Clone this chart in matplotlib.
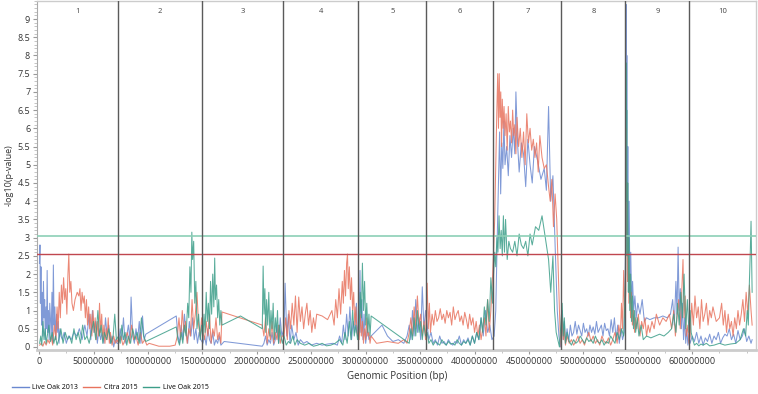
import matplotlib.pyplot as plt
from matplotlib.ticker import MultipleLocator

plt.rcParams['font.family'] = ['Open Sans', 'DejaVu Sans']

# chromosome boundaries (Mb) and names
chrom_edges = [0, 72.6, 149.8, 224.3, 293.2, 355.7, 417.3, 479.8, 538.6, 597.4, 659.0]
chrom_names = ['1', '2', '3', '4', '5', '6', '7', '8', '9', '10']

# significance thresholds
thr_lo15 = 3.05
thr_citra = 2.56

# Live Oak 2013 (blue)
lo13_pos = [0.3, 0.8, 1.2, 1.7, 2.3, 2.9, 3.4, 4.0, 4.6, 5.1, 5.7, 6.3, 6.9, 7.4, 8.0, 8.6, 9.2, 9.8, 10.5, 11.1,
            11.8, 12.4, 13.1, 13.8, 14.5, 15.2, 16.0, 16.7, 17.5, 18.3, 19.1, 20.0, 21.5, 23.0, 25.0, 27.0, 29.5, 32.0,
            34.5, 37.0, 39.5, 42.0, 44.0, 46.0, 47.5, 49.0, 50.5, 52.0, 53.5, 55.0, 56.5, 58.0, 59.5, 61.0, 62.5, 64.0,
            65.5, 67.0, 68.5, 70.0, 71.5,
            73, 74.5, 76, 77.5, 79, 80.5, 82, 83.5, 84.5, 86, 87.5, 89, 90.5, 92, 93.5, 95, 96.5, 98, 126, 127.5, 129,
            130.5, 132, 133.5, 135, 136.5, 138, 139.5, 141, 142.5, 144, 145.5, 147, 148.5,
            150.5, 152, 153.5, 155, 156.5, 158, 159.5, 161, 162.5, 164, 165.5, 167, 170, 205, 206.5, 208, 209.5, 211,
            212.5, 214, 215.5, 217, 218.5, 220, 221.5, 223,
            225, 226, 227.5, 229, 230.5, 232, 234, 236, 238, 240, 243, 246, 250, 255, 260, 265, 270, 274, 276, 278,
            279.5, 281, 282.5, 284, 285.5, 287, 288.5, 290, 291.5, 292.5,
            294, 294.8, 295.6, 296.5, 297.5, 298.5, 300, 301.5, 303, 305, 310, 315, 320, 325, 330, 335, 338, 340,
            341.5, 343, 344.5, 346, 347.5, 349, 350.5, 352, 353.5, 355,
            356.5, 358, 360, 362, 364, 366, 368, 370, 372, 374, 376, 378, 380, 382, 384, 386, 388, 390, 392, 394, 396,
            398, 400, 402, 404, 406, 408, 410, 412, 414, 416,
            418, 419.5, 421, 422, 423, 424, 425, 426, 427, 428, 429.5, 431, 432.5, 434, 435.5, 437, 438, 439.5, 441,
            443, 445, 447, 449, 451, 453, 455, 458, 461, 464, 466, 468, 470, 472, 474, 476, 477.5, 479,
            480.5, 481.5, 482.5, 483.5, 485, 486.5, 488, 489.5, 491, 492.5, 494, 495.5, 497, 498.5, 500, 501.5, 503,
            504.5, 506, 507.5, 509, 510.5, 512, 513.5, 515, 516.5, 518, 519.5, 521, 522.5, 524, 525.5, 527, 528.5,
            530, 531.5, 533, 534.5, 536, 537.5,
            538.9, 539.2, 539.5, 539.9, 540.3, 540.8, 541.4, 542, 542.7, 543.5, 544.3, 545.2, 546.2, 547.3, 548.5,
            550, 552, 554, 556, 558, 561, 565, 569, 573, 577, 580, 582, 583.5, 585, 586, 587, 588, 589, 590, 591,
            592, 593, 594, 595, 596, 597,
            598, 600, 602, 604, 606, 608, 610, 612, 614, 616, 618, 620, 622, 624, 626, 628, 630, 632, 634, 636, 638,
            640, 642, 644, 646, 648, 650, 652, 654, 655]
lo13_val = [2.3, 2.8, 1.2, 2.2, 0.6, 1.5, 0.3, 1.8, 0.8, 1.3, 0.2, 1.1, 0.5, 2.1, 0.4, 1.0, 0.2, 1.2, 0.7, 0.3,
            1.5, 0.1, 2.25, 0.6, 1.1, 0.2, 0.9, 0.4, 0.7, 0.1, 0.5, 0.3, 0.2, 0.4, 0.1, 0.3, 0.2, 0.4,
            0.3, 0.5, 0.2, 0.6, 0.3, 0.9, 0.2, 1.0, 0.4, 0.7, 0.1, 0.5, 0.2, 0.4, 0.1, 0.8, 0.3, 0.6,
            0.1, 0.3, 0.0, 0.2, 0.1,
            0.1, 0.5, 0.2, 0.8, 0.1, 0.3, 0.6, 0.2, 1.37, 0.3, 0.1, 0.5, 0.2, 0.7, 0.1, 0.85, 0.2, 0.35, 0.85, 0.3, 0.1,
            0.6, 0.2, 0.9, 0.4, 0.1, 0.7, 0.3, 0.8, 0.2, 0.5, 0.1, 0.4, 0.2,
            0.1, 0.3, 0.05, 0.5, 0.2, 0.1, 0.4, 0.05, 0.2, 0.1, 0.3, 0.05, 0.15, 0.02, 0.1, 0.3, 0.05, 0.2,
            0.1, 0.4, 0.05, 0.2, 0.6, 0.1, 0.8, 0.3,
            0.5, 1.75, 0.3, 0.9, 0.1, 0.6, 0.2, 0.4, 0.05, 0.2, 0.1, 0.15, 0.05, 0.1, 0.05, 0.08, 0.1, 0.05, 0.3, 0.1,
            0.6, 0.2, 0.9, 0.3, 1.1, 0.2, 0.7, 0.4, 1.2, 0.3,
            0.8, 2.1, 0.4, 1.3, 0.2, 0.9, 0.1, 0.5, 0.2, 0.3, 0.45, 0.6, 0.3, 0.15, 0.2, 0.1, 0.3, 0.6,
            0.2, 1.0, 0.3, 1.3, 0.4, 0.8, 0.2, 1.65, 0.5, 1.0,
            0.6, 0.2, 0.4, 0.1, 0.2, 0.05, 0.3, 0.1, 0.15, 0.05, 0.2, 0.1, 0.05, 0.15, 0.1, 0.3, 0.05, 0.2, 0.1, 0.25,
            0.05, 0.3, 0.1, 0.4, 0.2, 0.8, 0.3, 1.0, 0.4, 0.6, 0.2,
            0.3, 1.0, 3.2, 4.5, 5.9, 4.2, 5.6, 4.9, 6.2, 5.0, 5.5, 4.7, 5.8, 5.2, 6.0, 5.3, 7.0, 5.6, 4.8,
            5.6, 5.3, 4.4, 5.7, 5.0, 4.5, 5.5, 5.1, 4.6, 4.9, 4.3, 6.6, 4.0, 4.7, 2.8, 1.0, 0.3, 0.0,
            1.0, 0.2, 0.7, 0.1, 0.5, 0.15, 0.6, 0.3, 0.4, 0.7, 0.35, 0.6, 0.45, 0.3, 0.65, 0.4, 0.5,
            0.3, 0.6, 0.4, 0.55, 0.35, 0.7, 0.4, 0.5, 0.6, 0.3, 0.65, 0.45, 0.5, 0.3, 0.75, 0.4, 0.8,
            0.2, 0.6, 0.1, 0.5, 0.2, 0.4,
            3.0, 9.4, 5.0, 8.0, 3.5, 5.5, 2.5, 4.0, 1.8, 2.6, 1.2, 1.8, 1.0, 1.4, 0.8,
            1.2, 0.9, 1.3, 0.7, 0.8, 0.75, 0.8, 0.8, 0.85, 0.8, 0.9, 1.3, 0.6, 1.8, 0.9, 2.74, 1.0, 1.6, 0.5, 1.2,
            0.2, 0.8, 0.1, 0.5, 0.05, 0.3,
            0.1, 0.3, 0.15, 0.4, 0.1, 0.3, 0.05, 0.25, 0.15, 0.35, 0.1, 0.3, 0.2, 0.4, 0.1, 0.25, 0.35, 0.3, 0.5, 0.2,
            0.35, 0.1, 0.45, 0.2, 0.3, 0.5, 0.15, 0.3, 0.1, 0.2]

# Citra 2015 (red)
ci15_pos = [0.5, 2, 3.5, 5, 6.5, 8, 9.5, 11, 12.5, 14, 15.5, 16.5, 17.5, 18.5, 19.5, 20.5, 21.5, 22.5, 23.5, 24.5,
            25.5, 26.5, 27.3, 28.2, 29.2, 30.2, 31.5, 33, 35, 36.5, 37.5, 38.5, 39.5, 40.5, 41.5, 42.5, 43.5, 44.5,
            45.5, 46.5, 47.5, 48.5, 49.5, 50.5, 51.5, 52.5, 53.5, 54.5, 55.5, 56.5, 57.5, 58.5, 59.5, 60.5, 61.5,
            62.5, 63.5, 64.5, 65.5, 67, 68.5, 70, 71.5,
            73, 75, 77, 79, 81, 83, 85, 87, 89, 91, 93, 95, 97, 99, 101, 110, 120, 125, 127, 128.5, 130, 131.5, 133,
            134.5, 136, 137.5, 139, 140.5, 142, 143.5, 145, 146.5, 148, 149.3,
            150.5, 152, 153.5, 155, 156.5, 158, 159.5, 161, 162.5, 164, 165.5, 167, 168, 205, 206.5, 208, 209.5, 211,
            212.5, 214, 215.5, 217, 218.5, 220, 221.5, 223,
            225, 226.5, 228, 229.5, 231, 232.5, 234, 235.5, 237, 238.5, 240, 241.5, 243, 244.5, 246, 247.5, 249,
            250.5, 252, 253.5, 255, 260, 265, 269, 271, 272.5, 274, 275.5, 277, 278.5, 279.5, 280.5, 281.5, 282.5,
            283.3, 284, 285, 286, 287, 288, 289, 290, 291, 292,
            294, 295, 296, 297, 298, 299, 300, 301, 302, 303, 304, 305, 310, 320, 330, 335, 338, 340, 341.5, 343,
            344.5, 346, 347.5, 349, 350.5, 352, 353.5, 355,
            356.5, 357.5, 358.5, 359.5, 361, 362.5, 364, 365.5, 367, 368.5, 370, 371.5, 373, 374.5, 376, 377.5, 379,
            380.5, 382, 383.5, 385, 386.5, 388, 389.5, 391, 392.5, 394, 395.5, 397, 398.5, 400, 401.5, 403, 404.5,
            406, 407.5, 409, 410.5, 412, 413.5, 415, 416.5,
            417.5, 418.5, 419.5, 420.5, 421.3, 422, 422.7, 423.4, 424.1, 424.8, 425.5, 426.3, 427.1, 428, 429, 430,
            431, 432, 433, 434, 435, 436, 437, 438, 439, 440.5, 442, 443.5, 445, 446.5, 448, 449.5, 451, 452.5, 454,
            455.5, 457, 458.5, 460, 462, 464, 466, 468, 469.5, 471, 472.5, 474, 475.5, 477, 478.5, 479.5,
            480.5, 481.5, 482.5, 483.5, 485, 487, 489, 491, 493, 495, 497, 499, 501, 503, 505, 507, 509, 511, 513,
            515, 517, 519, 521, 523, 525, 527, 529, 531, 532.5, 534, 535, 536, 537, 538,
            538.9, 539.3, 539.7, 540.1, 540.6, 541.2, 541.8, 542.5, 543.3, 544.1, 545, 546, 547, 548, 549, 550.5,
            552, 553.5, 555, 556.5, 558, 559.5, 561, 563, 565, 567, 570, 573, 576, 579, 581, 583, 584.5, 586, 587.5,
            589, 590.5, 591.5, 592.5, 593.5, 594.5, 596, 597,
            598, 599.5, 601, 602.5, 604, 605.5, 607, 608.5, 610, 611.5, 613, 614.5, 616, 617.5, 619, 622, 625, 627,
            628.5, 630, 631.5, 633, 634.5, 636, 637.5, 639, 640.5, 642, 643.5, 645, 646.5, 648, 649.5, 651, 652.5,
            654, 655]
ci15_val = [0.05, 0.1, 0.02, 0.15, 0.05, 0.2, 0.1, 0.3, 0.05, 0.6, 0.2, 1.1, 0.5, 1.5, 0.8, 1.7, 1.2, 1.9, 1.3, 1.6,
            0.9, 2.0, 2.55, 1.5, 1.8, 1.2, 1.0, 1.3, 1.5, 1.4, 1.6, 1.0, 1.5, 1.2, 1.4, 0.8, 1.3, 0.6,
            1.1, 0.5, 0.9, 0.3, 1.0, 0.4, 0.8, 0.2, 0.7, 0.3, 1.2, 0.4, 0.9, 0.2, 0.6, 0.1, 0.5,
            0.2, 0.8, 0.1, 0.4, 0.05, 0.3, 0.1, 0.2,
            0.1, 0.3, 0.05, 0.2, 0.4, 0.1, 0.6, 0.2, 0.3, 0.05, 0.4, 0.1, 0.2, 0.05, 0.1, 0.02, 0.02, 0.05, 0.3, 0.8,
            0.2, 1.0, 0.4, 0.7, 0.1, 0.5, 0.3, 1.3, 0.5, 0.9, 1.5, 0.6, 0.3, 0.8,
            0.4, 0.2, 0.7, 0.3, 0.9, 0.1, 0.5, 0.3, 0.8, 0.2, 0.4, 0.1, 0.96, 0.6, 0.3, 0.8, 0.1, 0.5,
            0.2, 0.7, 0.1, 0.4, 0.2, 0.6, 0.1, 0.3,
            0.3, 0.8, 0.2, 1.0, 0.5, 1.2, 0.6, 1.4, 0.4, 1.37, 0.7, 1.1, 0.5, 0.9, 1.2, 0.6, 1.0,
            0.4, 0.8, 0.5, 0.9, 0.85, 0.75, 1.0, 0.6, 1.3, 0.8, 1.6, 0.9, 1.8, 1.2, 2.1, 1.4, 2.3,
            2.55, 1.6, 2.2, 1.3, 1.9, 1.0, 1.5, 0.6, 1.1, 0.4,
            0.2, 0.9, 0.3, 0.7, 0.1, 0.5, 0.2, 0.8, 0.3, 0.4, 0.1, 0.3, 0.1, 0.15, 0.1, 0.2, 0.1, 0.4, 0.8, 0.3,
            1.1, 0.5, 1.4, 0.6, 0.9, 0.3, 0.7, 0.2,
            1.75, 0.5, 1.2, 0.4, 0.9, 0.6, 1.0, 0.7, 0.8, 1.05, 0.75, 0.9, 0.65, 1.0, 0.8, 0.95, 0.6,
            1.1, 0.75, 0.9, 1.0, 0.7, 0.85, 0.6, 0.95, 0.75, 0.5, 0.9, 0.6, 0.8, 0.4, 0.7, 0.3, 0.6,
            0.2, 0.5, 0.8, 0.3, 1.3, 0.4, 1.0, 1.9,
            2.6, 3.5, 5.0, 6.5, 7.5, 6.0, 7.5, 6.3, 7.0, 5.5, 6.8, 6.0, 6.6, 5.8, 6.4, 5.4,
            6.6, 5.9, 6.2, 5.6, 6.5, 5.8, 6.1, 5.3, 6.3, 5.5, 6.0, 5.2, 5.9, 5.0, 6.4, 5.6, 6.0, 5.4, 5.7,
            5.2, 5.6, 4.8, 5.8, 5.2, 4.9, 5.0, 4.4, 4.0, 4.6, 3.3, 4.2, 3.5, 2.0, 0.5, 0.0,
            0.8, 0.2, 0.5, 0.05, 0.3, 0.1, 0.2, 0.05, 0.15, 0.3, 0.1, 0.2, 0.05, 0.25, 0.4, 0.15, 0.3, 0.1, 0.2,
            0.05, 0.3, 0.15, 0.1, 0.25, 0.05, 0.2, 0.4, 0.1, 0.6, 0.3, 1.2, 0.5, 2.1, 0.8,
            1.5, 6.0, 3.0, 4.5, 1.8, 3.0, 1.2, 2.0, 0.8, 1.5, 0.6, 1.0, 0.4, 0.8, 0.5, 0.9,
            0.3, 0.7, 0.5, 0.8, 0.3, 0.6, 0.4, 0.7, 0.5, 0.9, 0.6, 0.8, 0.7, 0.9, 0.5, 1.0, 0.3, 0.8, 1.3,
            0.5, 1.6, 2.4, 0.8, 1.4, 0.3, 0.6, 0.1,
            0.3, 1.2, 0.6, 1.4, 0.8, 1.1, 0.5, 1.3, 0.7, 0.9, 1.2, 0.6, 1.0, 0.8, 1.1, 0.7, 0.8, 1.2,
            0.6, 1.0, 0.4, 0.9, 0.5, 0.7, 0.3, 0.8, 0.5, 1.0, 0.6, 0.9, 1.3, 0.7, 1.5, 0.9, 1.7,
            1.0, 0.6]

# Live Oak 2015 (teal)
lo15_pos = [0.5, 1.5, 2.5, 3.5, 4.5, 5.5, 6.5, 7.5, 9, 10.5, 12, 13.5, 15, 16.5, 18, 20, 22, 24, 26, 28, 30, 32, 34,
            36, 38, 40, 42, 44, 46, 48, 50, 52, 54, 55.5, 57, 58.5, 60, 62, 64, 66, 68, 69.5, 71,
            73, 74.5, 76, 77.5, 79, 80.5, 82, 84, 86, 88, 90, 92, 94, 96, 98, 126, 127.5, 129, 130.5, 132, 133.5, 135,
            136.5, 137.5, 138.5, 139.5, 140.3, 141, 142, 143, 144, 145, 146.5, 148, 149.3,
            150.5, 151.5, 152.5, 153.5, 154.5, 155.5, 156.5, 157.5, 158.5, 159.5, 160.5, 161.3, 162, 163, 164, 165,
            166, 167, 168, 185, 205, 205.8, 206.6, 207.4, 208.2, 209, 210, 211, 212, 213, 214, 215, 216, 217, 218,
            219, 220, 221, 222, 223.5,
            225, 227, 229, 231, 233, 235, 237, 240, 244, 248, 252, 256, 260, 264, 268, 272, 276, 279, 281, 283, 285,
            286.5, 288, 289.5, 291, 292.5,
            294, 295, 296, 297, 298, 299, 300, 301, 302, 303, 304, 305, 340, 341.5, 343, 344.5, 346, 347.5, 349,
            350.5, 352, 353.5, 355,
            356.5, 358, 360, 362, 364, 366, 368, 370, 372, 374, 376, 378, 380, 382, 384, 386, 388, 390, 392, 394, 396,
            398, 400, 402, 404, 406, 407.5, 409, 410.5, 412, 413.5, 415, 416.5,
            417.5, 418.5, 419.5, 420.5, 421.5, 422.5, 423.5, 424.5, 425.5, 426.5, 427.5, 428.5, 430, 431.5, 433, 435,
            437, 439, 441, 443, 445, 447, 449, 451, 453, 456, 459, 462, 465, 468, 470, 472, 473.5, 475, 476.5, 478,
            480.5, 481.5, 482.5, 483.5, 485, 487, 489, 491, 493, 495, 497, 499, 501, 503, 505, 507, 509, 511, 513,
            515, 517, 519, 521, 523, 525, 527, 529, 531, 533, 535, 537,
            538.8, 539.1, 539.4, 539.8, 540.2, 540.7, 541.3, 541.9, 542.6, 543.4, 544.2, 545.1, 546, 547, 548, 549.5,
            551, 553, 555, 558, 562, 566, 570, 574, 578, 581, 583, 585, 586.5, 588, 589.5, 591, 592.5, 594, 595.5,
            597,
            598, 599, 600.5, 602, 604, 606, 608, 610, 613, 616, 620, 625, 630, 635, 640, 644, 647, 649, 650.5, 651.5,
            652.5, 653.3, 654, 655]
lo15_val = [0.1, 0.3, 0.05, 0.7, 0.2, 0.5, 0.1, 0.3, 0.6, 0.15, 0.4, 0.1, 0.3, 0.05, 0.2, 0.5, 0.1, 0.4, 0.2, 0.3,
            0.1, 0.5, 0.2, 0.4, 0.1, 0.6, 0.2, 0.3, 0.1, 0.4, 0.7, 0.2, 1.0, 0.3, 0.6, 0.1, 0.4, 0.2, 0.5, 0.1, 0.3,
            0.9, 0.2,
            0.3, 0.1, 0.6, 0.2, 0.4, 0.05, 0.3, 0.1, 0.5, 0.2, 0.4, 0.1, 0.8, 0.3, 0.15, 0.55, 0.2, 0.05, 0.4, 0.1,
            0.6, 0.3, 1.2, 0.8, 2.2, 1.5, 3.15, 2.4, 2.9, 1.2, 1.8, 0.5, 0.9, 0.2, 0.6,
            0.2, 0.9, 0.4, 1.5, 0.7, 1.2, 0.5, 1.8, 0.9, 2.0, 1.1, 2.44, 1.3, 1.7, 0.8, 1.3,
            0.6, 1.0, 0.6, 0.85, 0.5, 2.22, 0.9, 1.6, 0.4, 1.3, 0.6, 1.5, 0.3, 1.0, 0.5, 1.2, 0.2, 0.8, 0.4,
            1.0, 0.1, 0.6, 0.3, 0.1,
            0.3, 0.05, 0.15, 0.1, 0.3, 0.05, 0.2, 0.1, 0.05, 0.1, 0.02, 0.05, 0.1, 0.03, 0.05, 0.1, 0.2, 0.05, 0.4,
            0.1, 0.7, 0.2, 1.0, 0.3, 0.6, 0.2,
            0.5, 1.5, 0.8, 2.3, 1.0, 1.8, 0.6, 1.2, 0.4, 0.9, 0.3, 0.85, 0.1, 0.5, 0.2, 0.8, 0.3, 1.0, 0.4,
            0.7, 0.2, 0.6, 0.3,
            0.4, 0.1, 0.2, 0.05, 0.15, 0.1, 0.05, 0.2, 0.1, 0.05, 0.15, 0.08, 0.1, 0.05, 0.2, 0.1, 0.05, 0.15, 0.1,
            0.2, 0.05, 0.3, 0.1, 0.4, 0.2, 0.8, 0.4, 1.1, 0.6, 1.3, 0.7, 1.9, 1.2,
            2.0, 2.6, 2.2, 3.0, 2.6, 3.6, 2.7, 3.2, 2.5, 3.6, 2.6, 3.5, 2.4, 2.9, 2.7, 2.6,
            2.9, 2.5, 3.1, 2.8, 2.7, 2.9, 2.5, 3.1, 2.8, 3.3, 3.2, 3.6, 3.0, 2.4, 1.5, 2.5, 1.0, 0.4, 0.2, 0.0,
            1.2, 0.3, 0.8, 0.1, 0.4, 0.15, 0.05, 0.2, 0.1, 0.15, 0.3, 0.2, 0.1, 0.25, 0.15, 0.2, 0.1, 0.3, 0.15,
            0.1, 0.2, 0.05, 0.15, 0.1, 0.3, 0.2, 0.1, 0.4, 0.2, 0.5, 0.3,
            2.0, 7.8, 4.0, 6.5, 2.5, 4.5, 1.5, 3.0, 1.0, 2.0, 0.7, 1.4, 0.5, 1.0, 0.4, 0.8,
            0.3, 0.6, 0.2, 0.3, 0.25, 0.3, 0.35, 0.3, 0.4, 0.5, 0.9, 0.4, 1.2, 0.6, 1.5, 0.8, 2.0, 0.5, 1.3,
            0.4,
            1.0, 0.4, 0.2, 0.05, 0.1, 0.03, 0.08, 0.05, 0.1, 0.03, 0.05, 0.1, 0.05, 0.08, 0.1, 0.2, 0.5, 0.3, 1.0, 0.6,
            1.8, 2.6, 3.45, 1.5]

series = [
    ('Live Oak 2013', lo13_pos, lo13_val, '#6a88d0'),
    ('Citra 2015', ci15_pos, ci15_val, '#e8735e'),
    ('Live Oak 2015', lo15_pos, lo15_val, '#3c9e89'),
]

fig = plt.figure(figsize=(7.58, 3.94), dpi=100)
ax = fig.add_axes([0.049, 0.112, 0.949, 0.886])

lines = []
for name, pos, val, col in series:
    ln, = ax.plot([p * 1e6 for p in pos], val, color=col, lw=0.75, alpha=0.85, label=name)
    lines.append(ln)

ax.axhline(thr_lo15, color='#8ccfb6', lw=1.2, zorder=3)
ax.axhline(thr_citra, color='#c0474f', lw=1.0, zorder=3)

for e in chrom_edges[1:-1]:
    ax.axvline(e * 1e6, color='#5a5a5a', lw=1.0, zorder=4)

ax.set_xlim(-1.8e6, 659e6)
ax.set_ylim(-0.08, 9.5)

# chromosome labels across the top
starts = [-1.8] + chrom_edges[1:-1]
for i, nm in enumerate(chrom_names):
    mid = (starts[i] + chrom_edges[i + 1]) / 2
    ax.text(mid * 1e6, 0.968, nm, transform=ax.get_xaxis_transform(),
            ha='center', va='center', fontsize=5.5, color='#444444')

xt = [i * 50e6 for i in range(13)]
ax.set_xticks(xt)
ax.set_xticklabels(['%d' % t for t in xt])
ax.xaxis.set_minor_locator(MultipleLocator(25e6))
ax.set_yticks([i * 0.5 for i in range(19)])
ax.set_yticklabels(['%g' % (i * 0.5) for i in range(19)])
ax.yaxis.set_minor_locator(MultipleLocator(0.1))

ax.tick_params(axis='both', which='major', labelsize=6.5, colors='#999999', labelcolor='#333333', length=3, pad=2)
ax.tick_params(axis='both', which='minor', colors='#bbbbbb', length=2)

for s in ['top', 'right']:
    ax.spines[s].set_color('#cccccc')
    ax.spines[s].set_linewidth(1.0)
ax.spines['left'].set_color('#aaaaaa')
ax.spines['bottom'].set_color('#cccccc')
ax.spines['bottom'].set_linewidth(2.0)

ax.set_xlabel('Genomic Position (bp)', fontsize=7, color='#333333', labelpad=4)
ax.set_ylabel('-log10(p-value)', fontsize=6.5, color='#333333', labelpad=3)

leg = fig.legend(lines, [s[0] for s in series], loc='lower left', bbox_to_anchor=(0.012, 0.0),
                 ncol=3, frameon=False, fontsize=5, handlelength=2.4, columnspacing=0.8,
                 handletextpad=0.5, borderpad=0.2, borderaxespad=0.2)
for h in leg.legend_handles:
    h.set_alpha(1.0)
    h.set_linewidth(1.0)

fig.savefig('out.png', dpi=100)
